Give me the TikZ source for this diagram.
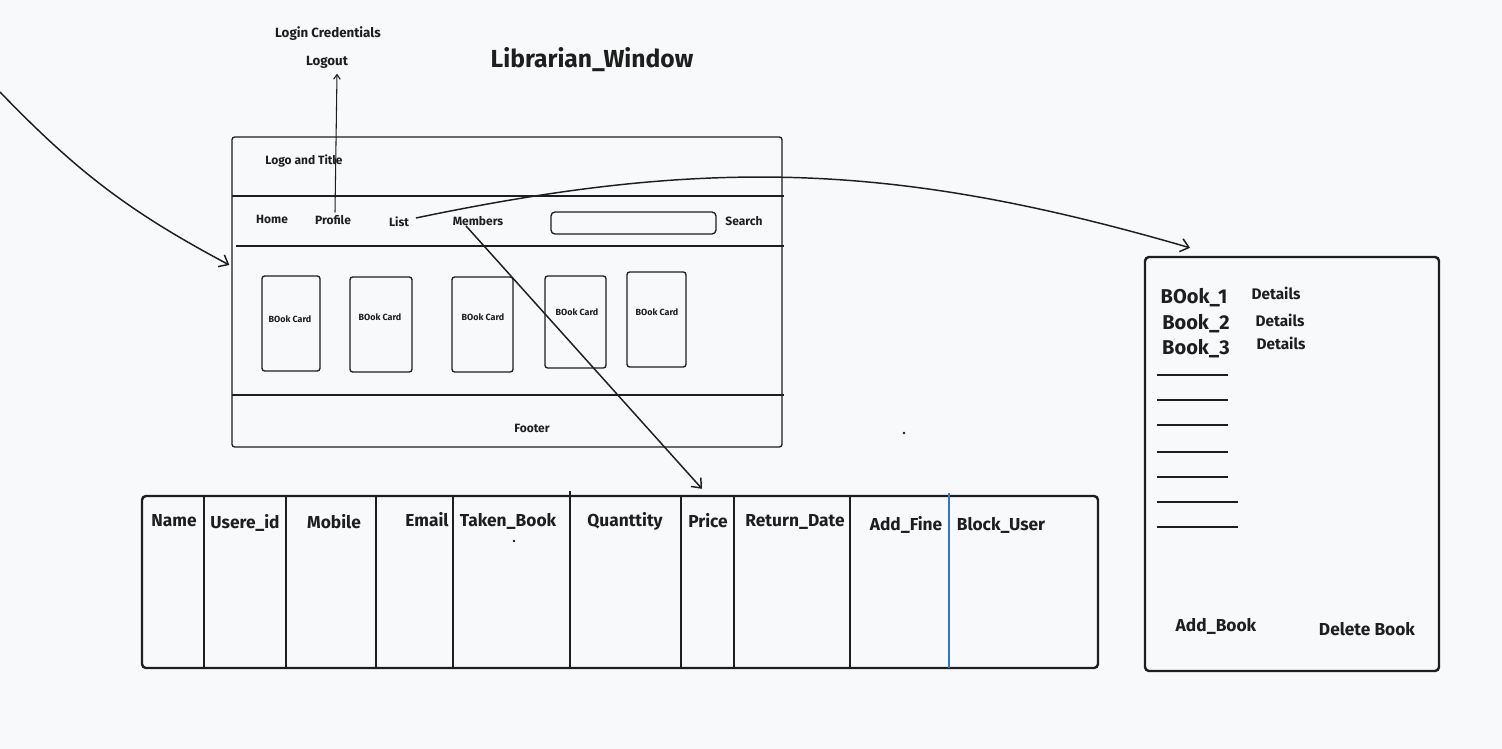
\documentclass[tikz,border=0pt]{standalone}
\usepackage{fontspec}
\setmainfont{Fira Sans}
\usetikzlibrary{arrows.meta,calc}
\definecolor{bg}{RGB}{248,249,250}
\definecolor{ink}{RGB}{30,30,30}
\definecolor{blueline}{RGB}{55,115,205}
\begin{document}
\begin{tikzpicture}[x=0.75pt,y=-0.75pt,
  lbl/.style={text=ink,inner sep=1pt},
  fsTitle/.style={font=\fontsize{18.5}{22}\selectfont\bfseries},
  fsTop/.style={font=\fontsize{10}{12}\selectfont\bfseries},
  fsSmall/.style={font=\fontsize{9}{11}\selectfont\bfseries},
  fsTiny/.style={font=\fontsize{6.7}{8}\selectfont\bfseries},
  fsHead/.style={font=\fontsize{13}{15}\selectfont\bfseries},
  fsBook/.style={font=\fontsize{15}{18}\selectfont\bfseries},
  fsDet/.style={font=\fontsize{11.5}{13}\selectfont\bfseries},
  box/.style={draw=ink,rounded corners=2pt,inner sep=0pt},
  card/.style={box,line width=1pt,minimum height=71.25pt},
  sepline/.style={draw=ink,line width=0.9pt},
  divline/.style={draw=ink,line width=1.5pt},
  dashline/.style={draw=ink,line width=1.5pt},
  conn/.style={draw=ink,line width=1.1pt,-{Straight Barb[length=6pt,width=10pt,line width=1.1pt]}},
  connsmall/.style={draw=ink,line width=0.8pt,-{Straight Barb[length=3.5pt,width=5pt,line width=0.8pt]}}
]
\fill[bg] (0,0) rectangle (1502,749);
\useasboundingbox (0,0) rectangle (1502,749);

% top labels
\node[lbl,fsTitle] (title) at (592,60) {Librarian\_Window};
\node[lbl,fsTop] (login) at (328,34) {Login Credentials};
\node[lbl,fsTop] (logout) at (327,62) {Logout};

% main window
\node[box,line width=1pt,minimum width=412.5pt,minimum height=232.5pt] (main) at (507,292) {};
\draw[sepline] (232,196) -- (784,196);
\draw[sepline] (236,246) -- (784,246);
\draw[sepline] (232,395) -- (784,395);
\node[lbl,fsSmall] (logo) at (304,161) {Logo and Title};
\node[lbl,fsSmall] (home) at (272,219) {Home};
\node[lbl,fsSmall] (profile) at (333,220) {Profile};
\node[lbl,fsSmall] (list) at (399,222) {List};
\node[lbl,fsSmall] (members) at (478,221) {Members};
\node[box,line width=1pt,rounded corners=3pt,minimum width=123.75pt,minimum height=16.5pt] (search) at (633.5,223) {};
\node[lbl,fsSmall] (searchlbl) at (744,221) {Search};
\node[lbl,fsSmall] (footer) at (532,428) {Footer};

% book cards
\node[card,minimum width=43.5pt] (c1) at (291,323.5) {};
\node[card,minimum width=46.5pt] (c2) at (381,324.5) {};
\node[card,minimum width=45.75pt] (c3) at (482.5,324.5) {};
\node[card,minimum width=45.75pt,minimum height=69pt] (c4) at (575.5,322) {};
\node[card,minimum width=44.25pt] (c5) at (656.5,319.5) {};
\node[lbl,fsTiny] (t1) at (290,319) {BOok Card};
\node[lbl,fsTiny] (t2) at (380,317) {BOok Card};
\node[lbl,fsTiny] (t3) at (483,317) {BOok Card};
\node[lbl,fsTiny] (t4) at (577,312) {BOok Card};
\node[lbl,fsTiny] (t5) at (657,312) {BOok Card};

% table
\node[box,line width=1.8pt,rounded corners=3pt,minimum width=717pt,minimum height=129pt] (tab) at (620,582) {};
\foreach \x in {204,286,376,453,681,734,850}
  \draw[divline] (\x,497) -- (\x,668);
\draw[divline] (570,491) -- (570,668);
\draw[blueline,line width=1.5pt] (949,493) -- (949,668);
\node[lbl,fsHead] (hName) at (174,521) {Name};
\node[lbl,fsHead] (hUid) at (245,523) {Usere\_id};
\node[lbl,fsHead] (hMob) at (334,522) {Mobile};
\node[lbl,fsHead] (hMail) at (427,520) {Email};
\node[lbl,fsHead] (hTaken) at (508,521) {Taken\_Book};
\node[lbl,fsHead] (hQty) at (625,521) {Quanttity};
\node[lbl,fsHead] (hPrice) at (708,521) {Price};
\node[lbl,fsHead] (hRet) at (795,522) {Return\_Date};
\node[lbl,fsHead] (hFine) at (906,525) {Add\_Fine};
\node[lbl,fsHead] (hBlock) at (1001,525) {Block\_User};
\fill[ink] (514,541) circle (1.1pt);
\fill[ink] (904,433) circle (1.1pt);

% right panel
\node[box,line width=1.8pt,rounded corners=3pt,minimum width=220.5pt,minimum height=310.5pt] (panel) at (1292,464) {};
\node[lbl,fsBook] (b1) at (1194,298) {BOok\_1};
\node[lbl,fsBook] (b2) at (1196,324) {Book\_2};
\node[lbl,fsBook] (b3) at (1196,349) {Book\_3};
\node[lbl,fsDet] (d1) at (1276,293) {Details};
\node[lbl,fsDet] (d2) at (1280,320) {Details};
\node[lbl,fsDet] (d3) at (1281,343) {Details};
\foreach \y in {375,400,425,452,477}
  \draw[dashline] (1157,\y) -- (1228,\y);
\foreach \y in {502,527}
  \draw[dashline] (1157,\y) -- (1238,\y);
\node[lbl,fsHead] (addb) at (1216,626) {Add\_Book};
\node[lbl,fsHead] (delb) at (1367,629) {Delete Book};

% connectors
\coordinate (start) at (0,92);
\draw[conn] (start) to[bend right=9] ([yshift=20.25pt,xshift=-1.5pt]main.west);
\draw[conn] ([xshift=4pt,yshift=3pt]list.east) to[bend left=14] ([xshift=-76.5pt,yshift=6pt]panel.north);
\draw[conn] ([xshift=-9pt,yshift=1pt]members.south) -- ([xshift=61.5pt,yshift=4.5pt]tab.north);
\draw[connsmall] ([xshift=1.5pt,yshift=1pt]profile.north) -- ([xshift=7.5pt,yshift=-3pt]logout.south);
\end{tikzpicture}
\end{document}
